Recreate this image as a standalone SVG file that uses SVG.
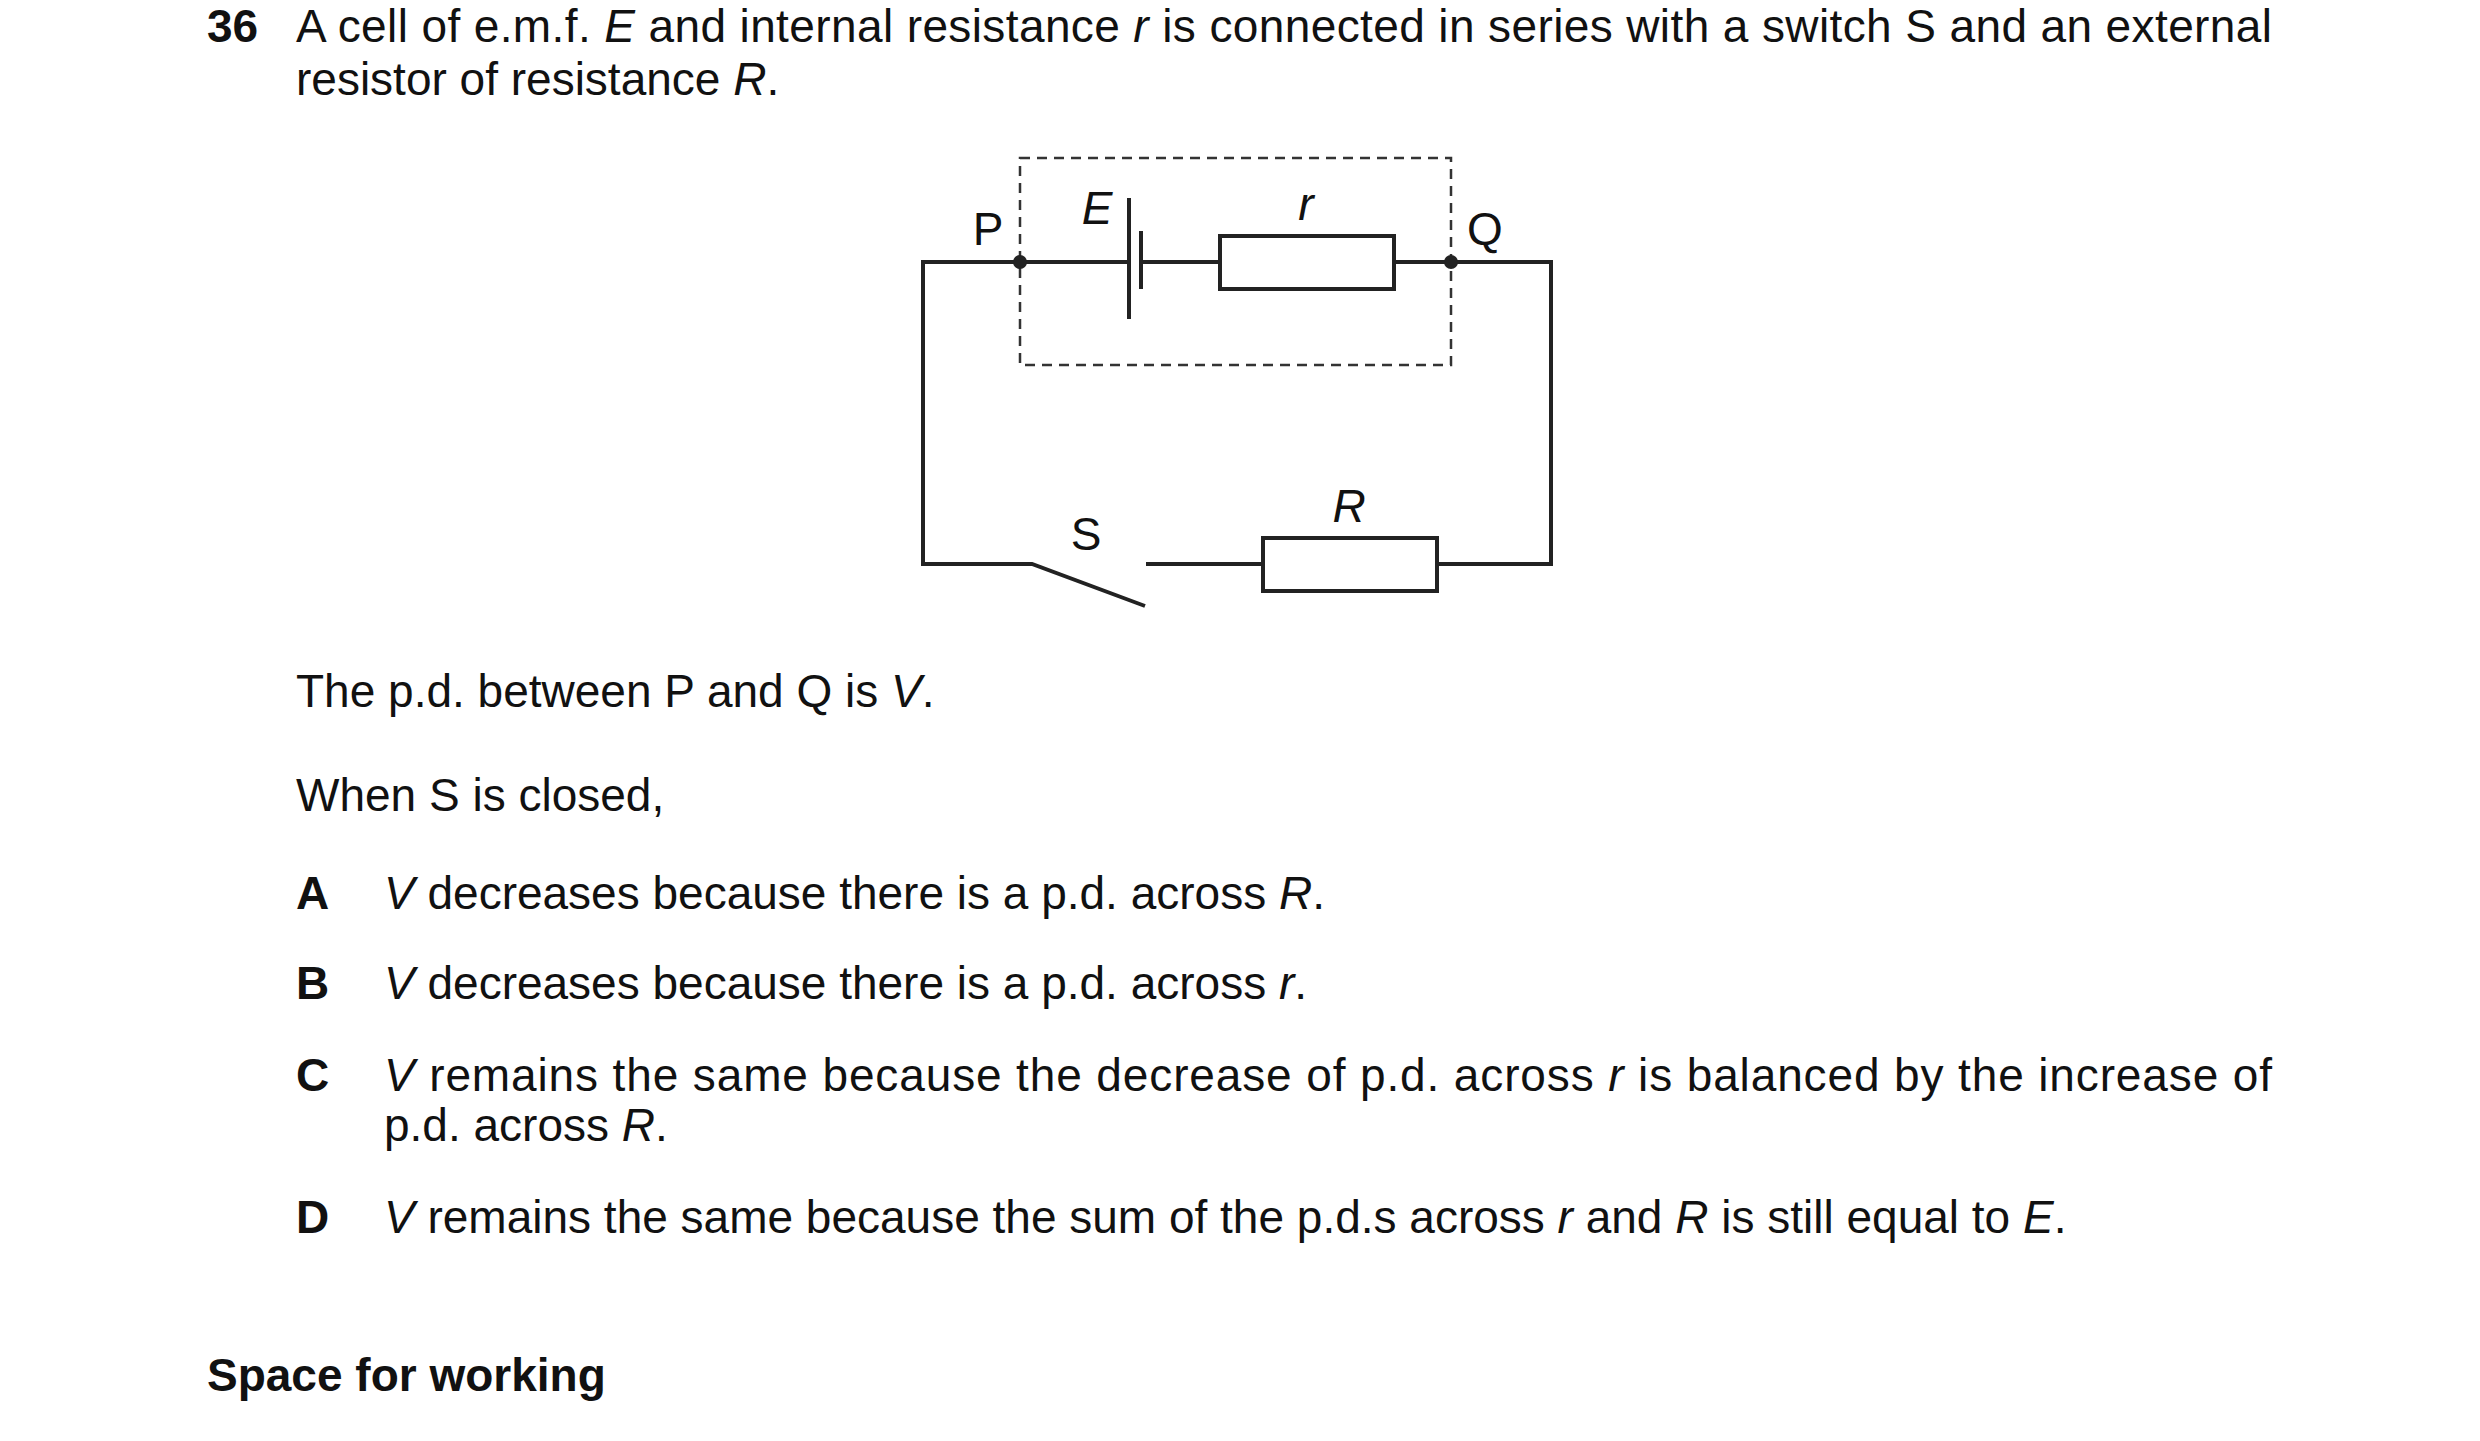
<svg xmlns="http://www.w3.org/2000/svg" width="2480" height="1441" viewBox="0 0 2480 1441">
<style>
text{font-family:"Liberation Sans",Arial,sans-serif;font-size:46px;fill:#111}
.b{font-weight:bold}
.w{fill:none;stroke:#222;stroke-width:4}
.d{fill:none;stroke:#333;stroke-width:2.5;stroke-dasharray:10 7}
</style>
<rect width="2480" height="1441" fill="#fff"/>
<g id="question">
<text x="207" y="42" class="b">36</text>
<text x="296" y="42" textLength="1976" lengthAdjust="spacing">A cell of e.m.f. <tspan font-style="italic">E</tspan> and internal resistance <tspan font-style="italic">r</tspan> is connected in series with a switch S and an external</text>
<text x="296" y="95">resistor of resistance <tspan font-style="italic">R</tspan>.</text>
</g>
<g id="connectors">
<rect class="d" x="1020" y="158" width="431" height="207"/>
<polyline class="w" points="1020,262 923,262 923,564 1032,564 1145,606"/>
<line class="w" x1="1020" y1="262" x2="1129" y2="262"/>
<line class="w" x1="1141" y1="262" x2="1220" y2="262"/>
<line class="w" x1="1394" y1="262" x2="1451" y2="262"/>
<polyline class="w" points="1451,262 1551,262 1551,564 1437,564"/>
<line class="w" x1="1146" y1="564" x2="1263" y2="564"/>
</g>
<g id="cell"><line class="w" x1="1129" y1="198" x2="1129" y2="319"/><line class="w" x1="1141" y1="231" x2="1141" y2="289"/></g>
<g id="r"><rect class="w" x="1220" y="236" width="174" height="53"/></g>
<g id="R"><rect class="w" x="1263" y="538" width="174" height="53"/></g>
<g id="P"><circle cx="1020" cy="262" r="7" fill="#222"/></g>
<g id="Q"><circle cx="1451" cy="262" r="7" fill="#222"/></g>
<g id="labels">
<text x="988" y="245" text-anchor="middle">P</text>
<text x="1097" y="224" text-anchor="middle" font-style="italic">E</text>
<text x="1306" y="220" text-anchor="middle" font-style="italic">r</text>
<text x="1485" y="245" text-anchor="middle">Q</text>
<text x="1086" y="550" text-anchor="middle">S</text>
<text x="1349" y="522" text-anchor="middle" font-style="italic">R</text>
</g>
<g id="options">
<text x="296" y="707">The p.d. between P and Q is <tspan font-style="italic">V</tspan>.</text>
<text x="296" y="811">When S is closed,</text>
<text x="296" y="909" class="b">A</text>
<text x="384" y="909"><tspan font-style="italic">V</tspan> decreases because there is a p.d. across <tspan font-style="italic">R</tspan>.</text>
<text x="296" y="999" class="b">B</text>
<text x="384" y="999"><tspan font-style="italic">V</tspan> decreases because there is a p.d. across <tspan font-style="italic">r</tspan>.</text>
<text x="296" y="1091" class="b">C</text>
<text x="384" y="1091" textLength="1888" lengthAdjust="spacing"><tspan font-style="italic">V</tspan> remains the same because the decrease of p.d. across <tspan font-style="italic">r</tspan> is balanced by the increase of</text>
<text x="384" y="1141">p.d. across <tspan font-style="italic">R</tspan>.</text>
<text x="296" y="1233" class="b">D</text>
<text x="384" y="1233"><tspan font-style="italic">V</tspan> remains the same because the sum of the p.d.s across <tspan font-style="italic">r</tspan> and <tspan font-style="italic">R</tspan> is still equal to <tspan font-style="italic">E</tspan>.</text>
<text x="207" y="1391" class="b">Space for working</text>
</g>
</svg>
